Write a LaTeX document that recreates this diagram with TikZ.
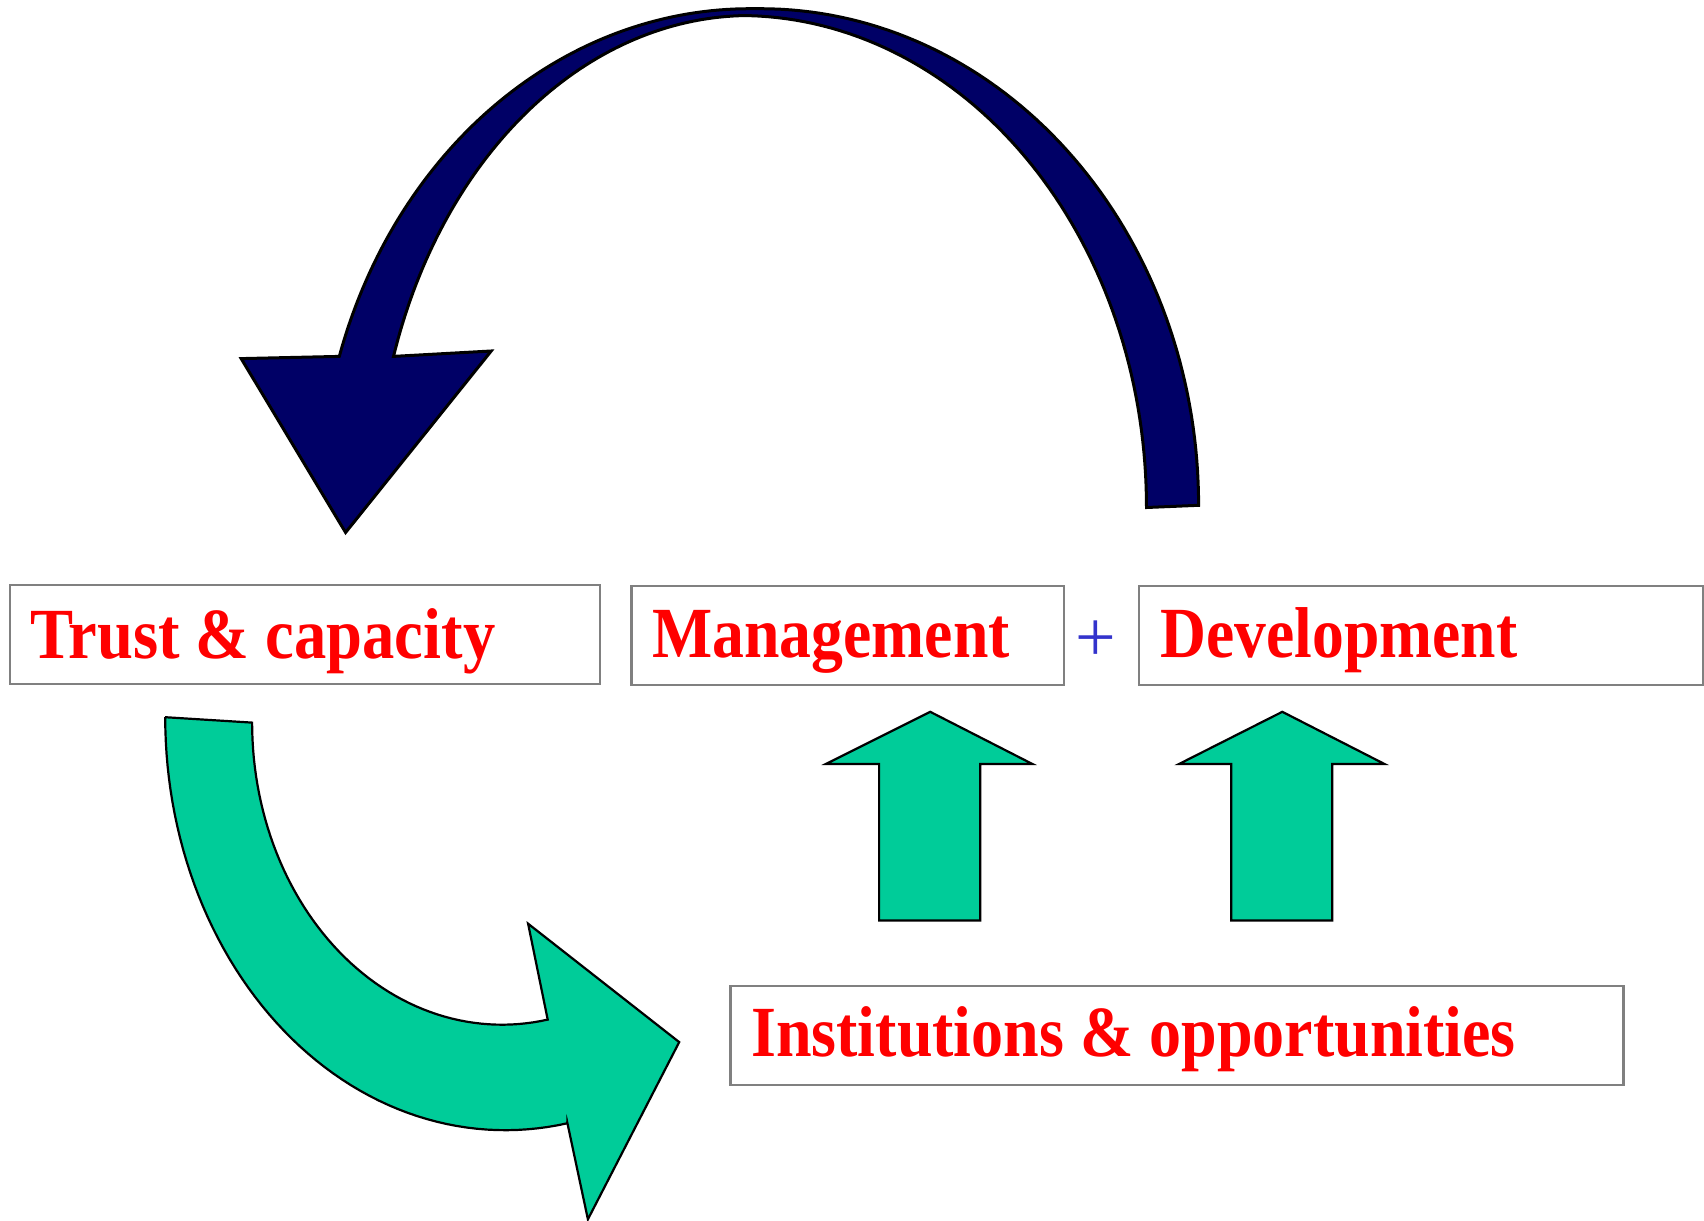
\documentclass[tikz,border=0pt]{standalone}
\usepackage{fontspec}
\setmainfont{Liberation Serif}
\usepackage{graphicx}
\definecolor{navyarrow}{RGB}{0,0,102}
\definecolor{greenarrow}{RGB}{0,204,153}
\definecolor{boxgray}{RGB}{128,128,128}
\definecolor{plusblue}{RGB}{51,51,204}
\begin{document}
\begin{tikzpicture}[x=1pt,y=-1pt,
  box/.style={draw=boxgray, line width=2.5pt, fill=white, anchor=north west, inner sep=0pt},
  lbl/.style={anchor=base west, inner sep=0pt, text=red, font=\fontsize{72}{80}\selectfont\bfseries},
  bluearrow/.style={draw=black, line width=3pt, fill=navyarrow, line join=miter},
  greenshape/.style={draw=black, line width=2.2pt, fill=greenarrow, line join=miter}]
\useasboundingbox (0,0) rectangle (1704,1220);
\fill[white] (0,0) rectangle (1704,1220);

% blue curved arrow
\draw[bluearrow] (1146.5,507.5)
  -- plot[domain=0:90, variable=\t, samples=70] ({740+406.5*cos(\t)},{507.5-492*sin(\t)})
  -- plot[domain=91.5:162.3, variable=\t, samples=70] ({749.8+374*cos(\t)},{505.3-489.8*sin(\t)})
  -- (491.2,351) -- (345.6,532.5) -- (241.2,358.6) -- (339.3,356.4)
  -- plot[domain=162.55:90, variable=\t, samples=70] ({749.8+430.3*cos(\t)},{505.3-496.6*sin(\t)})
  -- plot[domain=90:0, variable=\t, samples=70] ({760.7+437.9*cos(\t)},{505.3-496.6*sin(\t)})
  -- cycle;

% green curved arrow
\draw[greenshape] (165.2,717.2) -- (252.1,722.6)
  -- plot[domain=0:100.54, variable=\s, samples=60] ({502-249.9*cos(\s)},{722.6+302.1*sin(\s)})
  -- (528.1,923.7) -- (679.2,1042.1) -- (587.9,1219.3) -- (567.3,1122.6)
  -- plot[domain=100.5:0, variable=\s, samples=60] ({505.3-340.1*cos(\s)},{717.2+413*sin(\s)})
  -- cycle;

% up arrows
\draw[greenshape] (930.2,711.8) -- (1032.4,764) -- (980.2,764) -- (980.2,920.4)
  -- (879.1,920.4) -- (879.1,764) -- (825.9,764) -- cycle;
\draw[greenshape] (1282.3,711.8) -- (1384.5,764) -- (1332.3,764) -- (1332.3,920.4)
  -- (1231.2,920.4) -- (1231.2,764) -- (1179,764) -- cycle;

% boxes
\node[box, minimum width=590.1pt, minimum height=98.9pt] (trustbox) at (8.7,583.6) {};
\node[box, minimum width=432.5pt, minimum height=98.9pt] (mgmtbox) at (630.3,584.6) {};
\node[box, minimum width=564pt, minimum height=98.9pt] (devbox) at (1137.8,584.6) {};
\node[box, minimum width=893.2pt, minimum height=99pt] (instbox) at (729.2,984.5) {};

% labels
\node[lbl] (trust) at (30,658.5) {\scalebox{0.897}[1]{Trust \& capacity}};
\node[lbl] (mgmt) at (652,657.5) {\scalebox{0.885}[1]{Management}};
\node[lbl] (dev) at (1160.6,657.5) {\scalebox{0.883}[1]{Development}};
\node[lbl] (inst) at (751,1056.3) {\scalebox{0.889}[1]{Institutions \& opportunities}};
\node[inner sep=0pt, text=plusblue, font=\fontsize{72}{76}\selectfont] (plus) at (1095.5,641.5) {+};
\end{tikzpicture}
\end{document}
